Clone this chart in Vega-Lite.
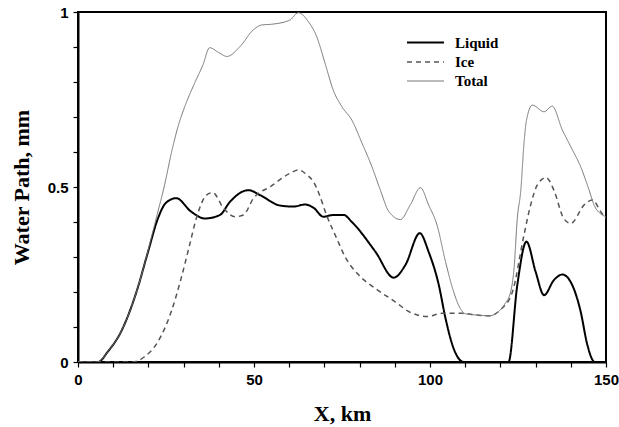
{
  "$schema": "https://vega.github.io/schema/vega-lite/v6.json",
  "autosize": {"type": "none"},
  "padding": {"left": 78, "top": 12, "right": 13, "bottom": 65},
  "width": 528,
  "height": 350,
  "background": "white",
  "config": {
    "view": {"stroke": "black", "strokeWidth": 2},
    "axis": {"grid": false, "domainColor": "black", "domainWidth": 2, "tickColor": "black", "tickWidth": 1.2, "labelFlush": false,
      "labelFont": "Liberation Sans", "labelFontWeight": "bold", "labelFontSize": 15, "labelColor": "black",
      "titleFont": "Liberation Serif", "titleFontWeight": "bold", "titleFontSize": 22, "titleColor": "#000000"},
    "legend": {"labelFont": "Liberation Serif", "labelFontWeight": "bold", "labelFontSize": 15, "labelColor": "black"}
  },
  "data": {"values": [
    {"x":0,"y":0,"s":"Liquid"},{"x":5.7,"y":0,"s":"Liquid"},{"x":8.5,"y":0.03,"s":"Liquid"},{"x":12.2,"y":0.086,"s":"Liquid"},{"x":16.6,"y":0.2,"s":"Liquid"},{"x":19.9,"y":0.315,"s":"Liquid"},{"x":22.7,"y":0.41,"s":"Liquid"},{"x":25,"y":0.455,"s":"Liquid"},{"x":27.9,"y":0.468,"s":"Liquid"},{"x":32.1,"y":0.43,"s":"Liquid"},{"x":36,"y":0.41,"s":"Liquid"},{"x":40.3,"y":0.42,"s":"Liquid"},{"x":43.2,"y":0.458,"s":"Liquid"},{"x":48.4,"y":0.491,"s":"Liquid"},{"x":51.7,"y":0.477,"s":"Liquid"},{"x":57.4,"y":0.447,"s":"Liquid"},{"x":61.2,"y":0.444,"s":"Liquid"},{"x":64.5,"y":0.45,"s":"Liquid"},{"x":67,"y":0.44,"s":"Liquid"},{"x":69.7,"y":0.415,"s":"Liquid"},{"x":72.5,"y":0.42,"s":"Liquid"},{"x":75.5,"y":0.42,"s":"Liquid"},{"x":77.8,"y":0.4,"s":"Liquid"},{"x":84.5,"y":0.315,"s":"Liquid"},{"x":89.7,"y":0.241,"s":"Liquid"},{"x":93,"y":0.277,"s":"Liquid"},{"x":97.1,"y":0.368,"s":"Liquid"},{"x":99.6,"y":0.315,"s":"Liquid"},{"x":102.5,"y":0.22,"s":"Liquid"},{"x":104.4,"y":0.125,"s":"Liquid"},{"x":106.7,"y":0.039,"s":"Liquid"},{"x":109.6,"y":0,"s":"Liquid"},{"x":122.3,"y":0,"s":"Liquid"},{"x":124.8,"y":0.22,"s":"Liquid"},{"x":127.4,"y":0.344,"s":"Liquid"},{"x":130,"y":0.258,"s":"Liquid"},{"x":132.4,"y":0.191,"s":"Liquid"},{"x":135.2,"y":0.234,"s":"Liquid"},{"x":137.6,"y":0.25,"s":"Liquid"},{"x":140.4,"y":0.22,"s":"Liquid"},{"x":142.8,"y":0.144,"s":"Liquid"},{"x":144.7,"y":0.049,"s":"Liquid"},{"x":146.8,"y":0,"s":"Liquid"},{"x":150,"y":0,"s":"Liquid"},
    {"x":0,"y":0,"s":"Ice"},{"x":15.6,"y":0,"s":"Ice"},{"x":18.9,"y":0.015,"s":"Ice"},{"x":22.7,"y":0.058,"s":"Ice"},{"x":26.5,"y":0.144,"s":"Ice"},{"x":29.3,"y":0.239,"s":"Ice"},{"x":31.7,"y":0.334,"s":"Ice"},{"x":33.6,"y":0.41,"s":"Ice"},{"x":36.5,"y":0.477,"s":"Ice"},{"x":38.3,"y":0.484,"s":"Ice"},{"x":41.3,"y":0.44,"s":"Ice"},{"x":44.6,"y":0.415,"s":"Ice"},{"x":47,"y":0.42,"s":"Ice"},{"x":49.8,"y":0.467,"s":"Ice"},{"x":54.8,"y":0.502,"s":"Ice"},{"x":60.2,"y":0.539,"s":"Ice"},{"x":62.6,"y":0.549,"s":"Ice"},{"x":65,"y":0.535,"s":"Ice"},{"x":66.9,"y":0.515,"s":"Ice"},{"x":68.5,"y":0.48,"s":"Ice"},{"x":70.6,"y":0.42,"s":"Ice"},{"x":73.5,"y":0.353,"s":"Ice"},{"x":75.9,"y":0.3,"s":"Ice"},{"x":79.7,"y":0.249,"s":"Ice"},{"x":84.5,"y":0.21,"s":"Ice"},{"x":90.1,"y":0.172,"s":"Ice"},{"x":94,"y":0.144,"s":"Ice"},{"x":99.1,"y":0.13,"s":"Ice"},{"x":103.4,"y":0.139,"s":"Ice"},{"x":109.1,"y":0.139,"s":"Ice"},{"x":113.4,"y":0.134,"s":"Ice"},{"x":116.8,"y":0.132,"s":"Ice"},{"x":120,"y":0.149,"s":"Ice"},{"x":123.4,"y":0.2,"s":"Ice"},{"x":126.7,"y":0.363,"s":"Ice"},{"x":128.6,"y":0.449,"s":"Ice"},{"x":130.5,"y":0.506,"s":"Ice"},{"x":133,"y":0.527,"s":"Ice"},{"x":135.2,"y":0.491,"s":"Ice"},{"x":138,"y":0.41,"s":"Ice"},{"x":140,"y":0.396,"s":"Ice"},{"x":143.8,"y":0.449,"s":"Ice"},{"x":146.1,"y":0.463,"s":"Ice"},{"x":148.8,"y":0.425,"s":"Ice"},{"x":150,"y":0.41,"s":"Ice"},
    {"x":0,"y":0,"s":"Total"},{"x":5.7,"y":0,"s":"Total"},{"x":8.5,"y":0.03,"s":"Total"},{"x":12.2,"y":0.086,"s":"Total"},{"x":16.6,"y":0.2,"s":"Total"},{"x":19.9,"y":0.318,"s":"Total"},{"x":22.2,"y":0.41,"s":"Total"},{"x":24.6,"y":0.506,"s":"Total"},{"x":26.5,"y":0.596,"s":"Total"},{"x":28.4,"y":0.672,"s":"Total"},{"x":30.3,"y":0.729,"s":"Total"},{"x":33.1,"y":0.796,"s":"Total"},{"x":35.5,"y":0.849,"s":"Total"},{"x":37.4,"y":0.898,"s":"Total"},{"x":40,"y":0.884,"s":"Total"},{"x":42.3,"y":0.873,"s":"Total"},{"x":46,"y":0.901,"s":"Total"},{"x":49.8,"y":0.949,"s":"Total"},{"x":52.2,"y":0.963,"s":"Total"},{"x":55,"y":0.965,"s":"Total"},{"x":60.2,"y":0.977,"s":"Total"},{"x":62.6,"y":0.998,"s":"Total"},{"x":65.4,"y":0.973,"s":"Total"},{"x":67.8,"y":0.93,"s":"Total"},{"x":70.2,"y":0.853,"s":"Total"},{"x":72.5,"y":0.777,"s":"Total"},{"x":75,"y":0.729,"s":"Total"},{"x":77.8,"y":0.691,"s":"Total"},{"x":80.7,"y":0.625,"s":"Total"},{"x":83.5,"y":0.558,"s":"Total"},{"x":85.9,"y":0.491,"s":"Total"},{"x":88.3,"y":0.43,"s":"Total"},{"x":91.6,"y":0.407,"s":"Total"},{"x":94.4,"y":0.449,"s":"Total"},{"x":97.3,"y":0.498,"s":"Total"},{"x":99.6,"y":0.449,"s":"Total"},{"x":102,"y":0.391,"s":"Total"},{"x":104.4,"y":0.287,"s":"Total"},{"x":106.7,"y":0.201,"s":"Total"},{"x":108.6,"y":0.153,"s":"Total"},{"x":110,"y":0.138,"s":"Total"},{"x":113.4,"y":0.134,"s":"Total"},{"x":116.8,"y":0.132,"s":"Total"},{"x":120,"y":0.149,"s":"Total"},{"x":121.2,"y":0.165,"s":"Total"},{"x":122.9,"y":0.2,"s":"Total"},{"x":123.9,"y":0.27,"s":"Total"},{"x":124.8,"y":0.41,"s":"Total"},{"x":125.8,"y":0.491,"s":"Total"},{"x":126.7,"y":0.625,"s":"Total"},{"x":127.4,"y":0.69,"s":"Total"},{"x":129.1,"y":0.734,"s":"Total"},{"x":132.4,"y":0.715,"s":"Total"},{"x":134.7,"y":0.731,"s":"Total"},{"x":137.6,"y":0.663,"s":"Total"},{"x":140,"y":0.615,"s":"Total"},{"x":142.8,"y":0.558,"s":"Total"},{"x":145.2,"y":0.491,"s":"Total"},{"x":146.6,"y":0.449,"s":"Total"},{"x":149,"y":0.42,"s":"Total"},{"x":150,"y":0.415,"s":"Total"}
  ]},
  "mark": {"type": "line", "interpolate": "monotone", "clip": true},
  "encoding": {
    "x": {"field": "x", "type": "quantitative", "title": "X, km",
      "scale": {"domain": [0, 150], "nice": false},
      "axis": {"values": [0,10,20,30,40,50,60,70,80,90,100,110,120,130,140,150], "tickSize": 5, "labelPadding": 5, "titlePadding": 16,
        "labelExpr": "datum.value % 50 === 0 ? datum.label : ''"}},
    "y": {"field": "y", "type": "quantitative", "title": "Water Path, mm",
      "scale": {"domain": [0, 1], "nice": false},
      "axis": {"values": [0,0.1,0.2,0.3,0.4,0.5,0.6,0.7,0.8,0.9,1], "tickSize": 5, "labelPadding": 5, "titlePadding": 14,
        "labelExpr": "datum.value == 0 ? '0' : datum.value == 0.5 ? '0.5' : datum.value == 1 ? '1' : ''"}},
    "color": {"field": "s", "type": "nominal", "title": null,
      "scale": {"domain": ["Liquid", "Ice", "Total"], "range": ["#000000", "#555555", "#777777"]},
      "legend": {"orient": "none", "legendX": 337, "legendY": 20, "symbolType": "M-2,0H2", "symbolSize": 342, "labelOffset": 19, "rowPadding": 1}},
    "strokeDash": {"field": "s", "type": "nominal", "title": null,
      "scale": {"domain": ["Liquid", "Ice", "Total"], "range": [[1, 0], [5, 4], [1, 0]]}},
    "strokeWidth": {"field": "s", "type": "nominal", "title": null,
      "scale": {"domain": ["Liquid", "Ice", "Total"], "range": [2, 1, 0.9]}}
  }
}
